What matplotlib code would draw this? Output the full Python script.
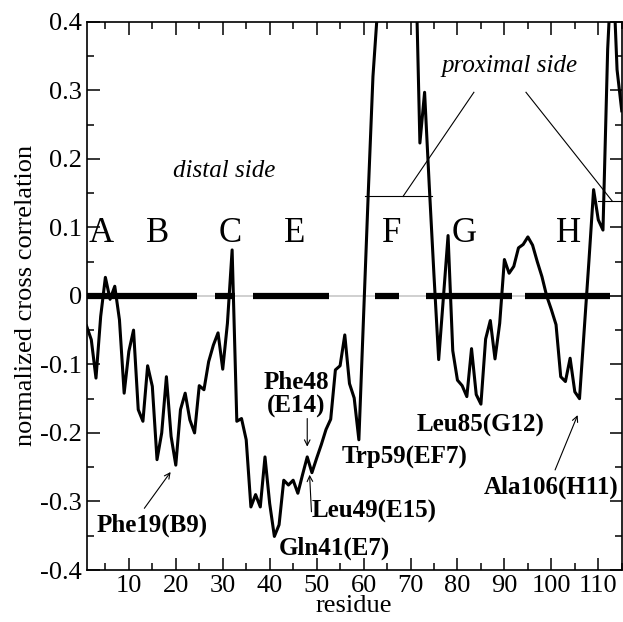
import numpy as np
import matplotlib.pyplot as plt
from matplotlib.ticker import MultipleLocator, FuncFormatter

plt.rcParams['font.family'] = ['Liberation Serif', 'DejaVu Serif']
plt.rcParams['axes.unicode_minus'] = False

# normalized cross correlation per residue
residue = np.arange(1, 116)
corr = [-0.044, -0.064, -0.120, -0.030, 0.027, -0.005, 0.014, -0.035, -0.142, -0.081,
        -0.050, -0.166, -0.183, -0.102, -0.132, -0.239, -0.200, -0.118, -0.205, -0.247,
        -0.166, -0.142, -0.181, -0.200, -0.131, -0.137, -0.096, -0.072, -0.054, -0.107,
        -0.040, 0.067, -0.183, -0.179, -0.210, -0.308, -0.290, -0.308, -0.235, -0.303,
        -0.351, -0.334, -0.269, -0.276, -0.269, -0.288, -0.261, -0.235, -0.258, -0.237,
        -0.217, -0.195, -0.180, -0.108, -0.102, -0.057, -0.128, -0.149, -0.210, -0.030,
        0.150, 0.320, 0.420, 0.520, 0.580, 0.600, 0.600, 0.580, 0.560, 0.540,
        0.520, 0.223, 0.297, 0.160, 0.030, -0.093, -0.003, 0.088, -0.080, -0.123,
        -0.131, -0.147, -0.077, -0.144, -0.158, -0.063, -0.036, -0.092, -0.040, 0.053,
        0.033, 0.043, 0.070, 0.075, 0.086, 0.074, 0.050, 0.028, 0.000, -0.020,
        -0.042, -0.118, -0.125, -0.091, -0.140, -0.150, -0.050, 0.050, 0.155, 0.111,
        0.096, 0.360, 0.500, 0.330, 0.270]

# helix ranges (residues)
helix_start = [1, 29, 37, 63, 74, 95]
helix_end = [24, 32, 52, 67, 91, 112]
helix_names = ['A', 'B', 'C', 'E', 'F', 'G', 'H']
helix_label_x = [4.2, 16.1, 31.6, 45.3, 65.9, 81.5, 103.7]

fig = plt.figure(figsize=(6.23, 6.22), dpi=100)
ax = fig.add_axes([0.139, 0.0836, 0.859, 0.8815])

ax.axhline(0, color='#c8c8c8', lw=1.2, zorder=1)
for s, e in zip(helix_start, helix_end):
    ax.plot([s - 0.6, e + 0.6], [0, 0], color='black', lw=4.5,
            solid_capstyle='butt', zorder=2)
ax.plot(residue, corr, color='black', lw=2.2, zorder=3)

ax.set_xlim(1, 115)
ax.set_ylim(-0.4, 0.4)
ax.xaxis.set_major_locator(MultipleLocator(10))
ax.xaxis.set_minor_locator(MultipleLocator(5))
ax.yaxis.set_major_locator(MultipleLocator(0.1))
ax.yaxis.set_minor_locator(MultipleLocator(0.05))
ax.yaxis.set_major_formatter(FuncFormatter(lambda v, p: '%g' % round(v, 2)))
ax.tick_params(which='both', direction='in', top=True, right=True, width=1.1,
               labelsize=19)
ax.tick_params(which='major', length=9)
ax.tick_params(which='minor', length=4.8)
for sp in ax.spines.values():
    sp.set_linewidth(1.2)

ax.set_xlabel('residue', fontsize=19, labelpad=-1)
ax.set_ylabel('normalized cross correlation', fontsize=19, labelpad=2)

for name, x in zip(helix_names, helix_label_x):
    ax.text(x, 0.078, name, fontsize=25, ha='center', va='baseline')

ax.text(30.4, 0.174, 'distal side', fontsize=18, style='italic', ha='center', va='baseline')
ax.text(91.0, 0.326, 'proximal side', fontsize=18, style='italic', ha='center', va='baseline')
ax.plot([83.5, 68.4], [0.297, 0.145], color='black', lw=0.8)
ax.plot([60.3, 74.5], [0.145, 0.145], color='black', lw=0.8)
ax.plot([94.6, 113.0], [0.297, 0.138], color='black', lw=0.8)
ax.plot([110.0, 115.0], [0.138, 0.138], color='black', lw=0.8, clip_on=False)

bold = dict(fontsize=18, fontweight='bold', va='baseline')
arrow = dict(arrowstyle='->', color='black', lw=0.8, shrinkA=0, shrinkB=0)

ax.text(15.0, -0.344, 'Phe19(B9)', ha='center', **bold)
ax.annotate('', xy=(18.9, -0.257), xytext=(13.3, -0.310), arrowprops=arrow)

ax.text(45.7, -0.136, 'Phe48', ha='center', **bold)
ax.text(45.7, -0.170, '(E14)', ha='center', **bold)
ax.annotate('', xy=(48.0, -0.220), xytext=(48.0, -0.179), arrowprops=arrow)

ax.text(48.9, -0.323, 'Leu49(E15)', ha='left', **bold)
ax.annotate('', xy=(48.5, -0.261), xytext=(48.9, -0.315), arrowprops=arrow)

ax.text(42.0, -0.378, 'Gln41(E7)', ha='left', **bold)
ax.text(55.3, -0.244, 'Trp59(EF7)', ha='left', **bold)
ax.text(71.3, -0.198, 'Leu85(G12)', ha='left', **bold)

ax.text(85.5, -0.288, 'Ala106(H11)', ha='left', **bold)
ax.annotate('', xy=(105.6, -0.174), xytext=(100.8, -0.254), arrowprops=arrow)

fig.savefig('out.png', dpi=100)
